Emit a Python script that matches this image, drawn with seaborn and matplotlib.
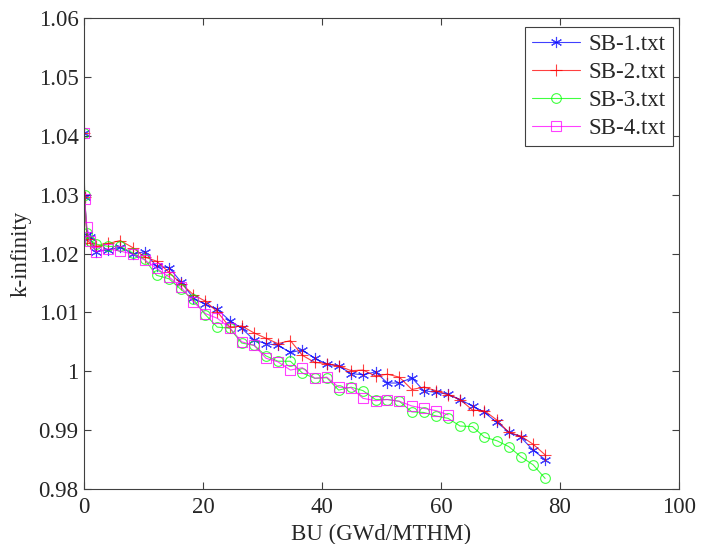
import numpy as np
import pandas as pd
import seaborn as sns
import matplotlib
matplotlib.use("Agg")
import matplotlib.pyplot as plt

# Burnup steps (GWd/MTHM)
bu = [0, 0.1, 0.5, 1.0, 2.0, 4.1, 6.1, 8.2, 10.2, 12.2, 14.3, 16.3, 18.4, 20.4,
      22.4, 24.5, 26.5, 28.6, 30.6, 32.6, 34.7, 36.7, 38.8, 40.8, 42.8, 44.9,
      46.9, 49.0, 51.0, 53.0, 55.1, 57.1, 59.2, 61.2, 63.2, 65.3, 67.3, 69.4,
      71.4, 73.4, 75.5, 77.5]

kinf_sb1 = [1.0405, 1.0296, 1.0232, 1.0228, 1.0203, 1.0206, 1.0211, 1.0199,
            1.0203, 1.0178, 1.0176, 1.0152, 1.0124, 1.0114, 1.0105, 1.0086,
            1.0073, 1.0053, 1.0047, 1.0044, 1.0032, 1.0036, 1.0022, 1.0012,
            1.0009, 0.9996, 0.9994, 0.9999, 0.9980, 0.9980, 0.9989, 0.9967,
            0.9964, 0.9961, 0.9952, 0.9941, 0.9930, 0.9913, 0.9897, 0.9888,
            0.9866, 0.9850]

kinf_sb2 = [1.0405, 1.0296, 1.0225, 1.0217, 1.0212, 1.0217, 1.0222, 1.0210,
            1.0194, 1.0187, 1.0168, 1.0149, 1.0130, 1.0119, 1.0101, 1.0075,
            1.0077, 1.0065, 1.0056, 1.0047, 1.0052, 1.0027, 1.0015, 1.0013,
            1.0009, 1.0001, 1.0002, 0.9992, 0.9995, 0.9990, 0.9969, 0.9973,
            0.9967, 0.9960, 0.9952, 0.9934, 0.9933, 0.9917, 0.9896, 0.9890,
            0.9876, 0.9858]

kinf_sb3 = [1.0405, 1.0300, 1.0234, 1.0222, 1.0216, 1.0212, 1.0212, 1.0201,
            1.0190, 1.0163, 1.0157, 1.0139, 1.0122, 1.0096, 1.0075, 1.0073,
            1.0048, 1.0044, 1.0026, 1.0017, 1.0017, 0.9997, 0.9988, 0.9989,
            0.9968, 0.9973, 0.9967, 0.9952, 0.9952, 0.9949, 0.9931, 0.9930,
            0.9924, 0.9920, 0.9907, 0.9906, 0.9888, 0.9882, 0.9872, 0.9855,
            0.9841, 0.9818]

kinf_sb4 = [1.0405, 1.0292, 1.0245, 1.0222, 1.0203, 1.0208, 1.0204, 1.0199,
            1.0189, 1.0175, 1.0160, 1.0143, 1.0118, 1.0098, 1.0090, 1.0074,
            1.0050, 1.0044, 1.0022, 1.0016, 1.0002, 1.0006, 0.9988, 0.9990,
            0.9973, 0.9972, 0.9954, 0.9950, 0.9952, 0.9949, 0.9941, 0.9937,
            0.9933, 0.9926]

labels = ["SB-1.txt", "SB-2.txt", "SB-3.txt", "SB-4.txt"]
series = [kinf_sb1, kinf_sb2, kinf_sb3, kinf_sb4]

frames = []
for name, vals in zip(labels, series):
    frames.append(pd.DataFrame({"BU": bu[:len(vals)], "kinf": vals, "case": name}))
df = pd.concat(frames, ignore_index=True)

sns.set_style("ticks")
plt.rcParams["font.family"] = ["Liberation Serif", "DejaVu Serif"]

fig = plt.figure(figsize=(7.01, 5.44), dpi=100)
ax = fig.add_axes([0.1198, 0.1011, 0.8488, 0.8658])

styles = {
    "SB-1.txt": dict(color="#0000ff", marker=(6, 2, 0), markersize=8, mfc="#0000ff"),
    "SB-2.txt": dict(color="#ff0000", marker="+", markersize=9, mfc="#ff0000"),
    "SB-3.txt": dict(color="#00ff00", marker="o", markersize=7, mfc="none"),
    "SB-4.txt": dict(color="#ff00ff", marker="s", markersize=7, mfc="none"),
}

for name in labels:
    st = styles[name]
    sub = df[df["case"] == name]
    sns.lineplot(data=sub, x="BU", y="kinf", ax=ax, label=name,
                 color=st["color"], marker=st["marker"], markersize=st["markersize"],
                 markerfacecolor=st["mfc"], markeredgecolor=st["color"],
                 markeredgewidth=0.8, linewidth=0.8, alpha=0.75,
                 estimator=None, sort=False)

ax.set_xlim(0, 100)
ax.set_ylim(0.98, 1.06)
ax.set_xticks([0, 20, 40, 60, 80, 100])
yt = [0.98, 0.99, 1.0, 1.01, 1.02, 1.03, 1.04, 1.05, 1.06]
ax.set_yticks(yt)
ax.set_yticklabels(["0.98", "0.99", "1", "1.01", "1.02", "1.03", "1.04", "1.05", "1.06"])
ax.set_xlabel("BU (GWd/MTHM)", fontsize=16.5, labelpad=4)
ax.set_ylabel("k-infinity", fontsize=16.5, labelpad=5)

ax.tick_params(direction="in", length=5, width=0.8, labelsize=16.5, color="#404040",
               top=True, right=True)
ax.tick_params(axis="x", pad=6)
ax.tick_params(axis="y", pad=4)
for sp in ax.spines.values():
    sp.set_visible(True)
    sp.set_color("#404040")
    sp.set_linewidth(0.8)

leg = ax.legend(loc="upper right", bbox_to_anchor=(1 - 6 / 595, 1 - 9 / 471),
                fontsize=16.5, frameon=True, fancybox=False,
                edgecolor="#404040", framealpha=1, borderpad=0.3,
                labelspacing=0.3, handlelength=2.1, handletextpad=0.4,
                borderaxespad=0.0)
leg.get_frame().set_linewidth(0.8)

fig.savefig("out.png", dpi=100)
